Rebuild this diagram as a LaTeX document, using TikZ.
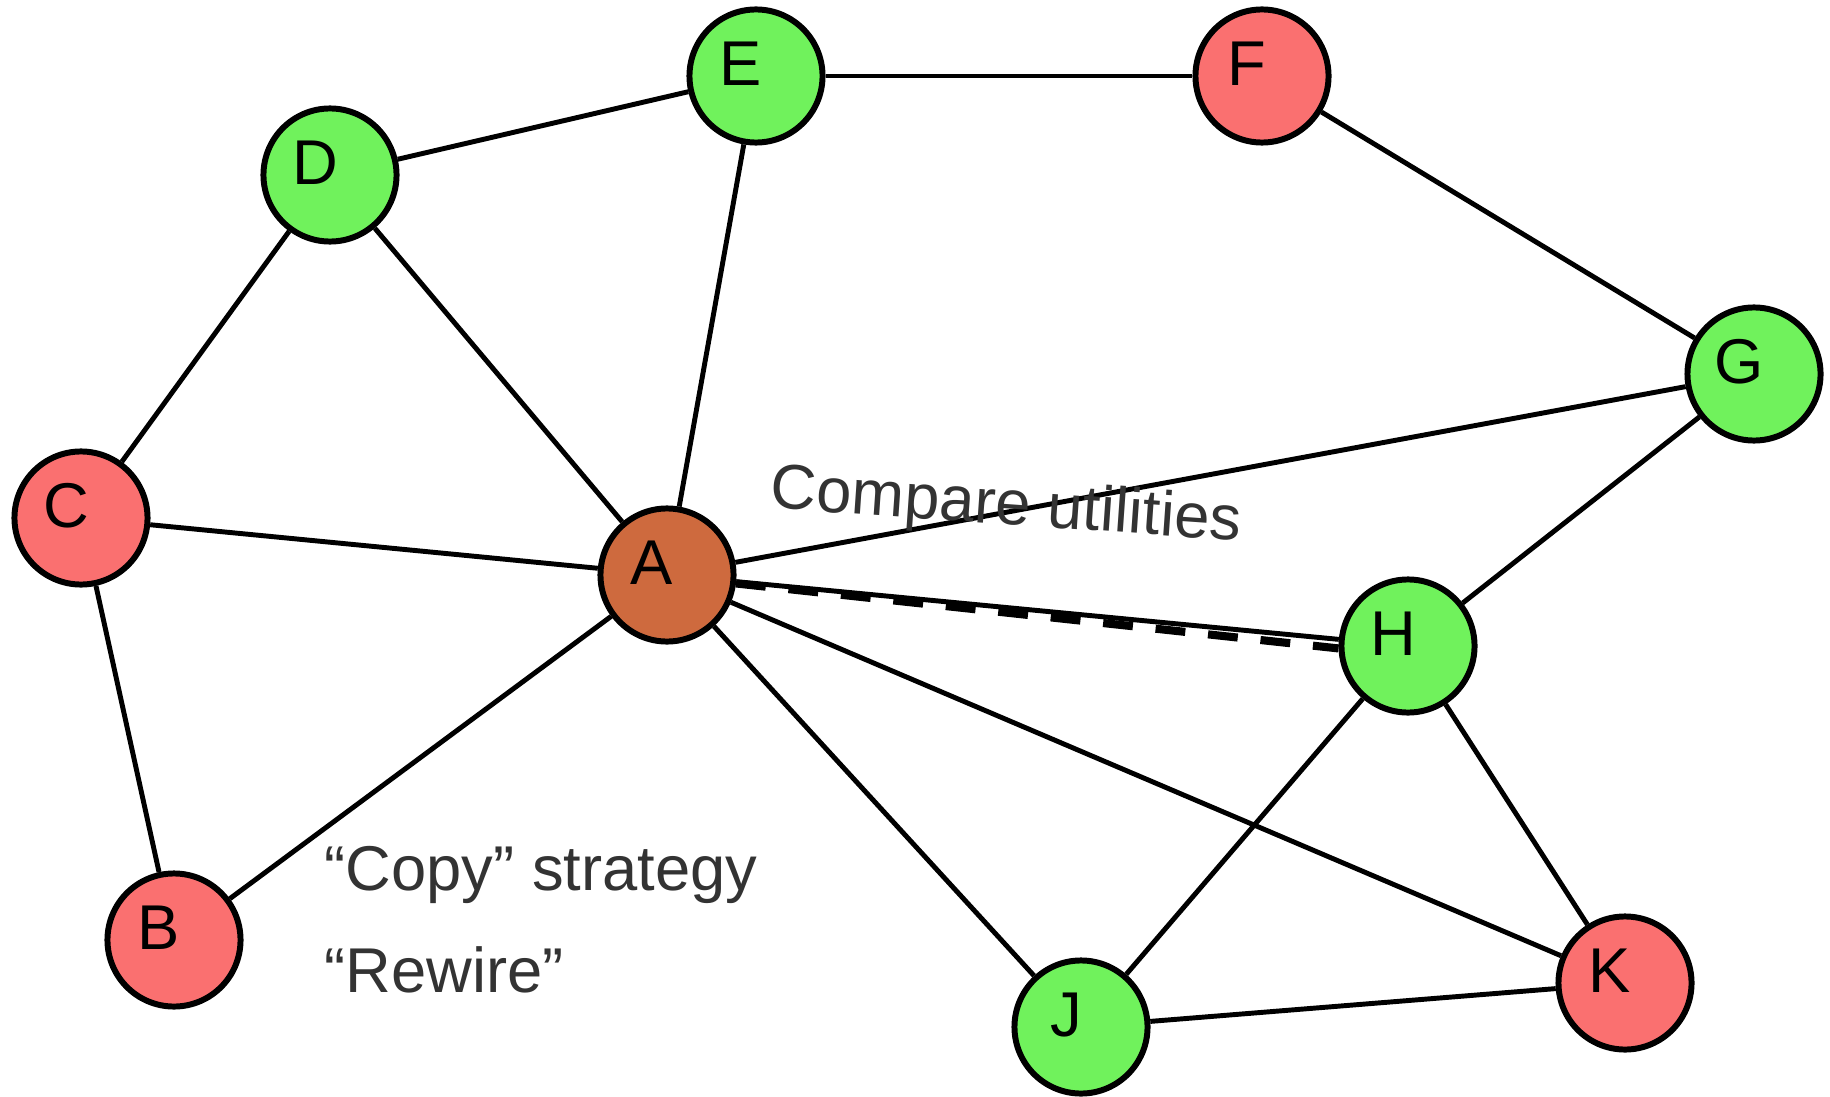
\documentclass[tikz,border=0pt]{standalone}
\usepackage{fontspec}
\setmainfont{Liberation Sans}
\usetikzlibrary{positioning}

\definecolor{nodegreen}{RGB}{112,242,92}
\definecolor{nodered}{RGB}{250,112,112}
\definecolor{nodeself}{RGB}{206,106,62}
\definecolor{notegray}{RGB}{51,51,51}

\begin{document}
\begin{tikzpicture}[
    x=0.01cm, y=-0.01cm,
    vertex/.style={circle, draw, line width=1.7pt, minimum size=1.33cm, inner sep=0pt,
        text height=0.47cm, text depth=0.28cm, execute at end node=\hspace{0.3cm},
        font=\fontsize{18}{22}\selectfont},
    link/.style={line width=1.4pt},
    note/.style={inner sep=0pt, text=notegray, font=\fontsize{18}{22}\selectfont}
]
\useasboundingbox (0,0) rectangle (1830,1097);

\node[vertex, fill=nodeself] (A) at (667,575) {A};
\node[vertex, fill=nodered] (B) at (174,940) {B};
\node[vertex, fill=nodered] (C) at (81,518) {C};
\node[vertex, fill=nodegreen] (D) at (330,175) {D};
\node[vertex, fill=nodegreen] (E) at (756,76) {E};
\node[vertex, fill=nodered] (F) at (1262,76) {F};
\node[vertex, fill=nodegreen] (G) at (1754,374) {G};
\node[vertex, fill=nodegreen] (H) at (1408,646) {H};
\node[vertex, fill=nodegreen] (J) at (1081,1027) {J};
\node[vertex, fill=nodered] (K) at (1625,983) {K};

\draw[link] (D) -- (E);
\draw[link] (E) -- (F);
\draw[link] (F) -- (G);
\draw[link] (D) -- (C);
\draw[link] (D) -- (A);
\draw[link] (E) -- (A);
\draw[link] (C) -- (A);
\draw[link] (C) -- (B);
\draw[link] (B) -- (A);
\draw[link] (A) -- (G);
\draw[link] (A) -- (H);
\draw[link] (A) -- (J);
\draw[link] (A) -- (K);
\draw[link] (G) -- (H);
\draw[link] (H) -- (J);
\draw[link] (H) -- (K);
\draw[link] (J) -- (K);
\draw[line width=2.3pt, dash pattern=on 8.5pt off 6.5pt] (A.-7) -- (H.182);

% Annotations
\node[note, rotate=-4] (compare) at (1006,508) {Compare utilities};
\node[note, anchor=base west] (copy) at (324,890) {“Copy” strategy};
\node[note, anchor=base west] (rewire) at (324,992) {“Rewire”};

\end{tikzpicture}
\end{document}
